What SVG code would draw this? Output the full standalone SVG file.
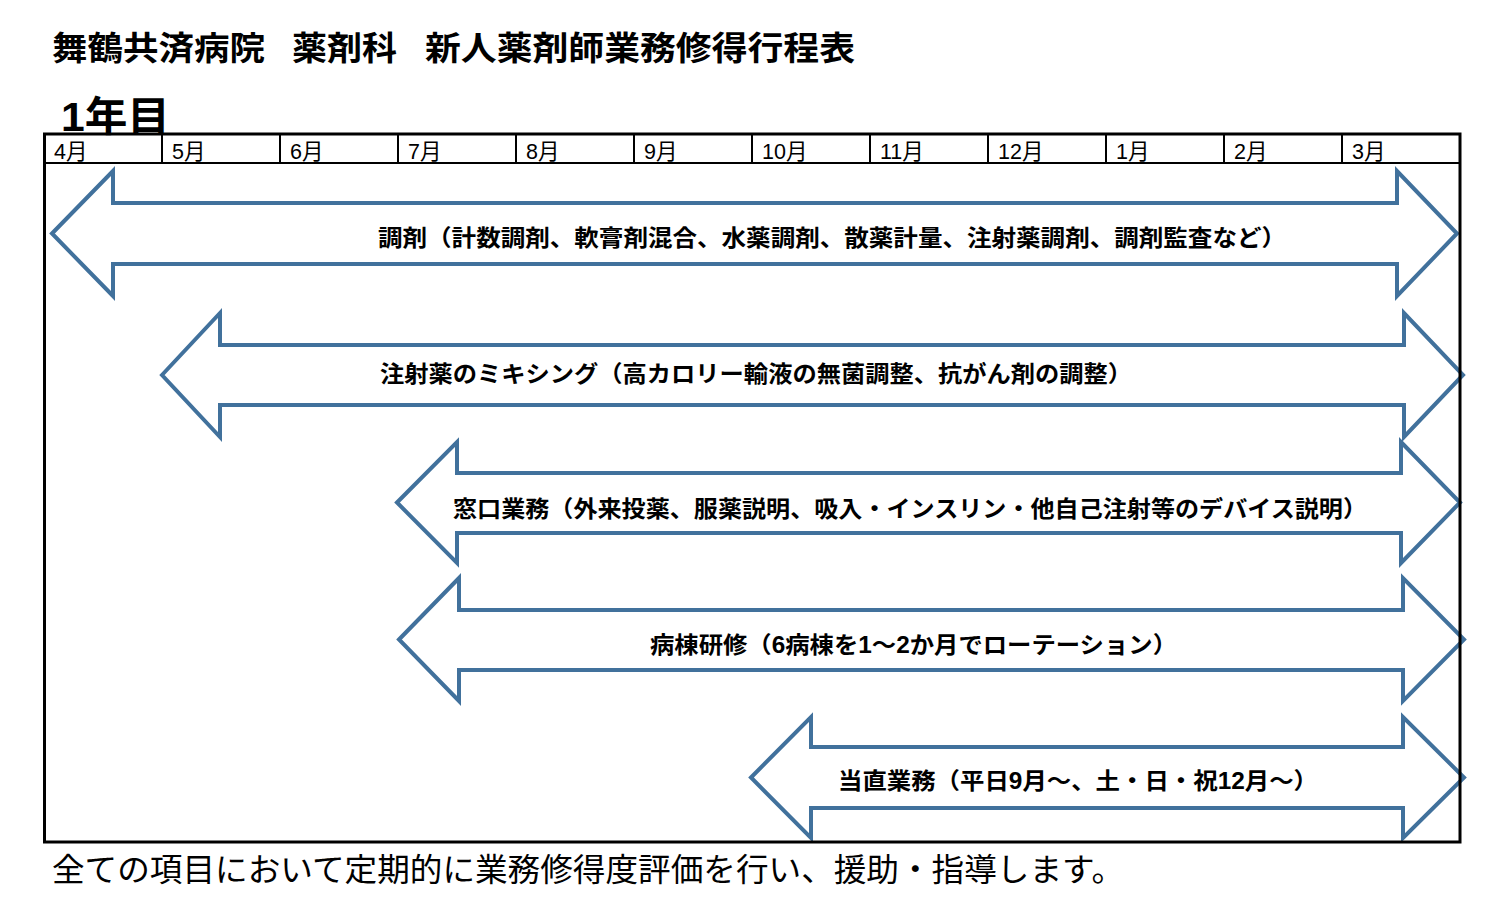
<svg xmlns="http://www.w3.org/2000/svg" width="1500" height="919" viewBox="0 0 1500 919">
<style>
.jp{font-family:"Liberation Sans","Noto Sans CJK JP",sans-serif;fill:#000}
.title{font-size:33px;font-weight:bold}
.year{font-size:41px;font-weight:bold}
.month{font-size:21.5px}
.lbl{font-size:23px;font-weight:bold;dominant-baseline:central}
.foot{font-size:32px}
.arrow{fill:none;stroke:#41719C;stroke-width:4;stroke-linejoin:miter}
.grid{stroke:#000;stroke-width:2;fill:none}
</style>
<rect width="1500" height="919" fill="#fff"/>
<g id="title">
<text class="jp title" y="60"><tspan x="52" textLength="213" lengthAdjust="spacingAndGlyphs">舞鶴共済病院</tspan><tspan x="292" textLength="105" lengthAdjust="spacingAndGlyphs">薬剤科</tspan><tspan x="425" textLength="430" lengthAdjust="spacingAndGlyphs">新人薬剤師業務修得行程表</tspan></text>
</g>
<g id="year-label">
<text class="jp year" x="61" y="131" textLength="109" lengthAdjust="spacingAndGlyphs">1年目</text>
</g>
<g id="timeline-header">
<line class="grid" x1="44" y1="163" x2="1460" y2="163"/>
<g class="grid">
<line x1="162" y1="134" x2="162" y2="163"/>
<line x1="280" y1="134" x2="280" y2="163"/>
<line x1="398" y1="134" x2="398" y2="163"/>
<line x1="516" y1="134" x2="516" y2="163"/>
<line x1="634" y1="134" x2="634" y2="163"/>
<line x1="752" y1="134" x2="752" y2="163"/>
<line x1="870" y1="134" x2="870" y2="163"/>
<line x1="988" y1="134" x2="988" y2="163"/>
<line x1="1106" y1="134" x2="1106" y2="163"/>
<line x1="1224" y1="134" x2="1224" y2="163"/>
<line x1="1342" y1="134" x2="1342" y2="163"/>
</g>
<g class="jp month">
<text x="54" y="159">4月</text>
<text x="172" y="159">5月</text>
<text x="290" y="159">6月</text>
<text x="408" y="159">7月</text>
<text x="526" y="159">8月</text>
<text x="644" y="159">9月</text>
<text x="762" y="159">10月</text>
<text x="880" y="159">11月</text>
<text x="998" y="159">12月</text>
<text x="1116" y="159">1月</text>
<text x="1234" y="159">2月</text>
<text x="1352" y="159">3月</text>
</g>
</g>
<g id="arrow-chozai">
<polygon class="arrow" points="52,233.5 113,171 113,203 1397,203 1397,171 1457,233.5 1397,296 1397,264 113,264 113,296"/>
<text class="jp lbl" x="378" y="238" textLength="908" lengthAdjust="spacingAndGlyphs">調剤（計数調剤、軟膏剤混合、水薬調剤、散薬計量、注射薬調剤、調剤監査など）</text>
</g>
<g id="arrow-mixing">
<polygon class="arrow" points="162,375 220,313 220,345 1404,345 1404,313 1463,375 1404,437 1404,405 220,405 220,437"/>
<text class="jp lbl" x="380" y="374" textLength="752" lengthAdjust="spacingAndGlyphs">注射薬のミキシング（高カロリー輸液の無菌調整、抗がん剤の調整）</text>
</g>
<g id="arrow-madoguchi">
<polygon class="arrow" points="397,502.5 457,442 457,473 1401,473 1401,442 1460,502.5 1401,563 1401,533 457,533 457,563"/>
<text class="jp lbl" x="453" y="509" textLength="914" lengthAdjust="spacingAndGlyphs">窓口業務（外来投薬、服薬説明、吸入・インスリン・他自己注射等のデバイス説明）</text>
</g>
<g id="arrow-byoto">
<polygon class="arrow" points="399,639.5 459,578 459,610 1403,610 1403,578 1464,639.5 1403,701 1403,670 459,670 459,701"/>
<text class="jp lbl" x="650" y="645" textLength="527" lengthAdjust="spacingAndGlyphs">病棟研修（6病棟を1～2か月でローテーション）</text>
</g>
<g id="arrow-tochoku">
<polygon class="arrow" points="751,777.5 811,717 811,747 1403,747 1403,717 1464,777.5 1403,838 1403,808 811,808 811,838"/>
<text class="jp lbl" x="838" y="781" textLength="480" lengthAdjust="spacingAndGlyphs">当直業務（平日9月～、土・日・祝12月～）</text>
</g>
<g id="connectors"></g>
<g id="frame">
<rect x="44.5" y="134" width="1415.5" height="708" fill="none" stroke="#000" stroke-width="3"/>
</g>
<g id="footnote">
<text class="jp foot" x="52" y="881" textLength="1072" lengthAdjust="spacingAndGlyphs">全ての項目において定期的に業務修得度評価を行い、援助・指導します。</text>
</g>
</svg>
